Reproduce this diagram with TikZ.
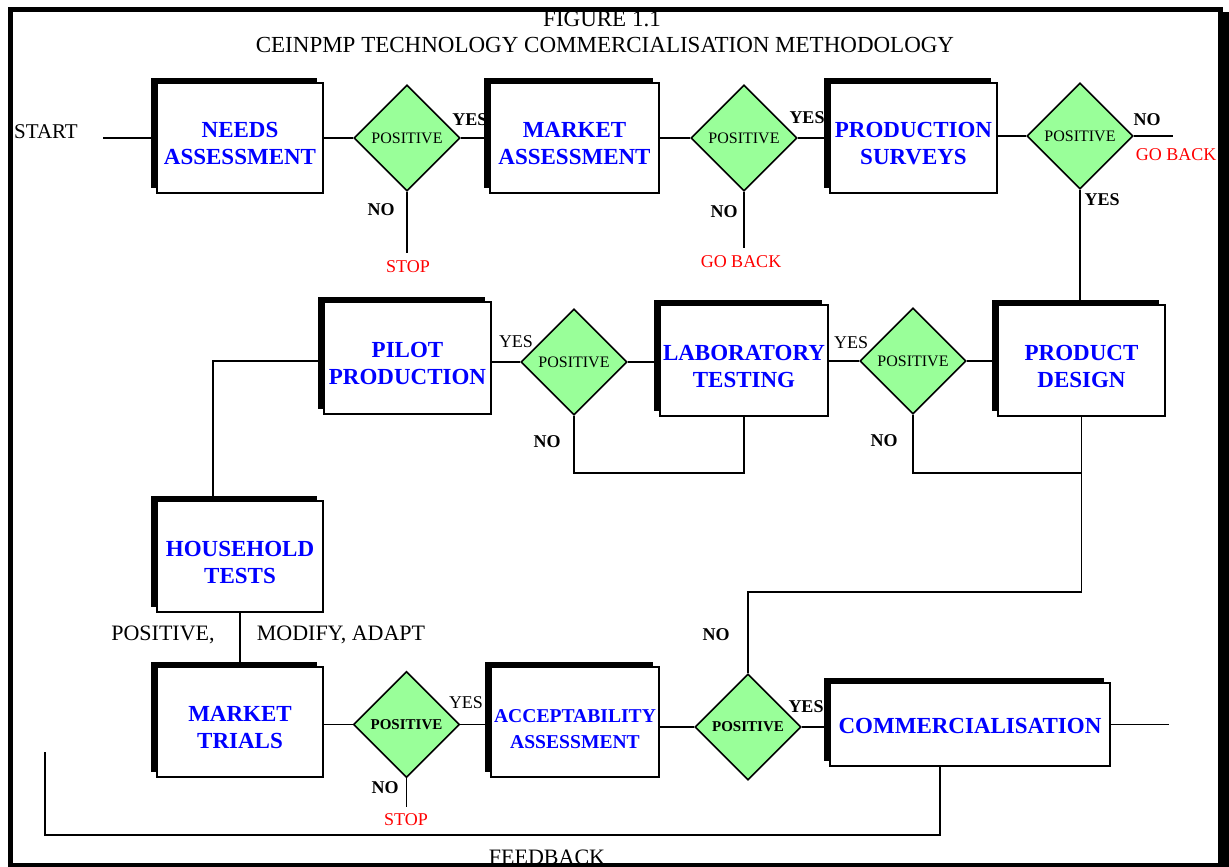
\documentclass[tikz,border=0pt]{standalone}
\usepackage{fontspec}
\setmainfont{Liberation Serif}
\usetikzlibrary{shapes.geometric,shadows}
\definecolor{dgreen}{HTML}{99FF99}
\begin{document}
\begin{tikzpicture}[x=1pt,y=-1pt,
  every node/.style={inner sep=0pt},
  box/.style={draw=black, line width=1.6pt, fill=white, rectangle, align=center, text=blue,
     font=\fontsize{23}{27}\selectfont\bfseries,
     general shadow={fill=black, shadow xshift=-6pt, shadow yshift=5pt}},
  dec/.style={diamond, draw=black, line width=1.6pt, fill=dgreen, minimum width=106pt, minimum height=106pt, font=\fontsize{16}{18}\selectfont},
  lbl/.style={anchor=base, font=\fontsize{18}{21}\selectfont\bfseries},
  lblr/.style={anchor=base, font=\fontsize{18}{21}\selectfont},
  stoplbl/.style={anchor=base, text=red, font=\fontsize{18}{21}\selectfont},
  bigtxt/.style={anchor=base, font=\fontsize{22}{26}\selectfont},
  conn/.style={draw=black, line width=1.5pt}
]
\useasboundingbox (0,0) rectangle (1229,867);
% title
\node[anchor=base, font=\fontsize{23}{27}\selectfont] (fig) at (602,27) {FIGURE 1.1};
\node[anchor=base, font=\fontsize{23}{27}\selectfont] (title) at (605,53) {CEINPMP TECHNOLOGY COMMERCIALISATION METHODOLOGY};

% row 1
\node[box, minimum width=166pt, minimum height=110pt] (needs) at (240,138) {\rule{0pt}{27pt}NEEDS\\ASSESSMENT};
\node[box, minimum width=169pt, minimum height=110pt] (market) at (574.5,138) {\rule{0pt}{27pt}MARKET\\ASSESSMENT};
\node[box, minimum width=167pt, minimum height=110pt] (survey) at (913.5,138) {\rule{0pt}{27pt}PRODUCTION\\SURVEYS};
\node[dec] (d1) at (407,138) {POSITIVE};
\node[dec] (d2) at (744,138) {POSITIVE};
\node[dec] (d3) at (1080,136) {POSITIVE};

% row 2
\node[box, minimum width=167pt, minimum height=112pt] (pilot) at (407.5,358) {\rule{0pt}{27pt}PILOT\\PRODUCTION};
\node[box, minimum width=168pt, minimum height=111pt] (lab) at (744,360.5) {\rule{0pt}{27pt}LABORATORY\\TESTING};
\node[box, minimum width=167pt, minimum height=111pt] (pd) at (1081.5,360.5) {\rule{0pt}{27pt}PRODUCT\\DESIGN};
\node[dec] (d4) at (574,362) {POSITIVE};
\node[dec] (d5) at (913,361) {POSITIVE};

% household
\node[box, minimum width=166pt, minimum height=111pt] (house) at (240,556.5) {\rule{0pt}{27pt}HOUSEHOLD\\TESTS};

% row 3
\node[box, minimum width=166pt, minimum height=110pt] (mt) at (240,722) {\rule{0pt}{27pt}MARKET\\TRIALS};
\node[box, minimum width=168pt, minimum height=110pt, font=\fontsize{19.6}{26}\selectfont\bfseries] (acc) at (575,722) {\rule{0pt}{27pt}ACCEPTABILITY\\ASSESSMENT};
\node[box, minimum width=280pt, minimum height=83pt] (comm) at (970,724.5) {\rule{0pt}{19pt}COMMERCIALISATION};
\node[dec, font=\fontsize{15}{18}\selectfont\bfseries] (d7) at (406.5,724.5) {POSITIVE};
\node[dec, font=\fontsize{15}{18}\selectfont\bfseries] (d8) at (748,727) {POSITIVE};

% coordinates
\coordinate (st) at (103,138);
\coordinate (s1) at (407,253);
\coordinate (g1) at (744,248);
\coordinate (g2) at (1173,136);
\coordinate (c1) at (744,473);
\coordinate (j1) at (1081.5,473);
\coordinate (j2) at (1081.5,592);
\coordinate (h1) at (213,361);
\coordinate (s2) at (406.5,807);
\coordinate (ce) at (1169,724.5);
\coordinate (fb1) at (940,835);
\coordinate (fb2) at (45,835);
\coordinate (fb3) at (45,752);

% connectors row 1
\draw[conn] (st) -- (needs.west);
\draw[conn] (needs.east) -- (d1.west);
\draw[conn] (d1.east) -- (market.west);
\draw[conn] (market.east) -- (d2.west);
\draw[conn] (d2.east) -- (survey.west);
\draw[conn] (survey.east |- d3.west) -- (d3.west);
\draw[conn] (d3.east) -- (g2);
\draw[conn] (d1.south) -- (s1);
\draw[conn] (d2.south) -- (g1);
\draw[conn] (d3.south) -- (d3.south |- pd.north);

% connectors row 2
\draw[conn] (pd.west |- d5.east) -- (d5.east);
\draw[conn] (d5.west) -- (d5.west -| lab.east);
\draw[conn] (lab.west |- d4.east) -- (d4.east);
\draw[conn] (d4.west) -- (d4.west -| pilot.east);
\draw[conn] (d4.south) |- (c1) -- (lab.south);
\draw[conn] (d5.south) |- (j1);
\draw[conn] (pd.south) -- (j2) -| (d8.north);
\draw[conn] (pilot.west |- h1) -- (h1) -- (h1 |- house.north);
\draw[conn] (house.south) -- (mt.north);

% connectors row 3
\draw[conn] (mt.east |- d7.west) -- (d7.west);
\draw[conn] (d7.east) -- (d7.east -| acc.west);
\draw[conn] (acc.east |- d8.west) -- (d8.west);
\draw[conn] (d8.east) -- (d8.east -| comm.west);
\draw[conn] (comm.east) -- (ce);
\draw[conn] (d7.south) -- (s2);
\draw[conn] (fb1 |- comm.south) -- (fb1) -- (fb2) -- (fb3);

% labels
\node[bigtxt, font=\fontsize{21}{25}\selectfont] (start) at (46,138) {START};
\node[lbl] (y1) at (470,125) {YES};
\node[lbl] (n1) at (381,215) {NO};
\node[stoplbl] (stop1) at (408,272) {STOP};
\node[lbl] (y2) at (807,123) {YES};
\node[lbl] (n2) at (724,217) {NO};
\node[stoplbl] (gb1) at (741,267) {GO BACK};
\node[lbl] (n3) at (1147,125) {NO};
\node[stoplbl] (gb2) at (1176,160) {GO BACK};
\node[lbl] (y3) at (1102,205) {YES};
\node[lblr] (y4) at (516,347) {YES};
\node[lbl] (n4) at (547,447) {NO};
\node[lblr] (y5) at (851,348) {YES};
\node[lbl] (n5) at (884,446) {NO};
\node[bigtxt] (pos) at (163,640) {POSITIVE,};
\node[bigtxt] (mod) at (341,640) {MODIFY, ADAPT};
\node[lblr] (y7) at (466,708) {YES};
\node[lbl] (n7) at (385,793) {NO};
\node[stoplbl] (stop2) at (406,825) {STOP};
\node[lbl] (n8) at (716,640) {NO};
\node[lbl] (y8) at (806,712) {YES};
\node[bigtxt] (fb) at (547,864) {FEEDBACK};

% frame
\draw[line width=5pt] (10,9.5) rectangle (1220,865);
\fill (1219,12) rectangle (1229,867);
\end{tikzpicture}
\end{document}
